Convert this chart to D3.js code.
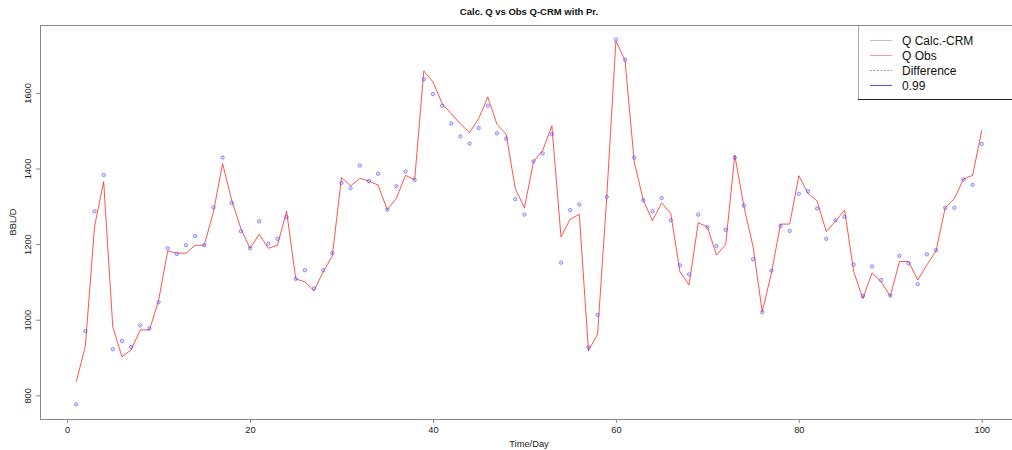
<!DOCTYPE html>
<html>
<head>
<meta charset="utf-8">
<script src="https://cdn.jsdelivr.net/npm/d3@7"></script>
<style>
body { margin: 0; background: #fff; }
text { font-family: "Liberation Sans", Arial, sans-serif; }
</style>
</head>
<body>
<div id="gr"></div>
<script>

var days = d3.range(1, 101);

// calculated Q (blue circles)
var qCalc = [776, 970, 1287, 1383, 922, 944, 928, 985, 977, 1046,
  1189, 1174, 1197, 1221, 1197, 1297, 1429, 1309, 1234, 1189,
  1260, 1201, 1214, 1271, 1108, 1131, 1083, 1131, 1176, 1362,
  1348, 1408, 1367, 1386, 1291, 1353, 1392, 1370, 1636, 1597,
  1566, 1519, 1485, 1466, 1507, 1566, 1493, 1479, 1319, 1278,
  1419, 1440, 1491, 1151, 1290, 1305, 927, 1013, 1325, 1741,
  1688, 1429, 1316, 1287, 1322, 1263, 1144, 1120, 1278, 1245,
  1195, 1238, 1429, 1302, 1160, 1020, 1130, 1248, 1235, 1333,
  1340, 1294, 1214, 1263, 1272, 1146, 1063, 1141, 1105, 1064,
  1169, 1149, 1094, 1173, 1184, 1296, 1296, 1371, 1357, 1465];

// observed Q (red line)
var qObs = [836, 930, 1246, 1365, 981, 902, 920, 973, 973, 1050,
  1182, 1176, 1176, 1197, 1197, 1285, 1413, 1316, 1241, 1189,
  1226, 1189, 1197, 1287, 1108, 1100, 1077, 1127, 1169, 1376,
  1354, 1374, 1367, 1356, 1291, 1321, 1382, 1370, 1658, 1629,
  1572, 1545, 1518, 1495, 1532, 1589, 1517, 1491, 1347, 1296,
  1419, 1448, 1513, 1219, 1266, 1279, 918, 962, 1325, 1737,
  1686, 1418, 1316, 1262, 1309, 1281, 1127, 1092, 1257, 1245,
  1171, 1199, 1435, 1299, 1193, 1021, 1123, 1253, 1253, 1381,
  1334, 1314, 1233, 1261, 1290, 1127, 1056, 1124, 1100, 1062,
  1154, 1154, 1105, 1145, 1182, 1296, 1320, 1372, 1382, 1501];

var xTicks = [0, 20, 40, 60, 80, 100];
var yTicks = [800, 1000, 1200, 1400, 1600];
var legendLabels = ["Q Calc.-CRM", "Q Obs", "Difference", "0.99"];

var width = 1012,
height = 450;

var box = { left: 40, right: 1018, top: 25, bottom: 419 };

var svg = d3.select("#gr").append("svg").
attr("width", width).
attr("height", height);

// R style 4% padding on both axes
function pad(ext) {
  var r = ext[1] - ext[0];
  return [ext[0] - r * 0.04, ext[1] + r * 0.04];
}

var xScale = d3.scaleLinear().
domain(pad(d3.extent(days))).
range([box.left, box.right]);

var yScale = d3.scaleLinear().
domain(pad(d3.extent(qCalc))).
range([box.bottom, box.top]);

// x axis
var xAxis = d3.axisBottom(xScale).tickValues(xTicks).tickSize(4).tickPadding(3).tickFormat(d3.format("d"));
var gx = svg.append("g").
attr("transform", "translate(0," + box.bottom + ")").
call(xAxis);
gx.select(".domain").remove();
gx.selectAll("line").attr("stroke", "#888");
gx.selectAll("text").attr("fill", "#222").style("font-size", "9.3px");

// y axis
var yAxis = d3.axisLeft(yScale).tickValues(yTicks).tickSize(4).tickFormat(d3.format("d"));
var gy = svg.append("g").
attr("transform", "translate(" + box.left + ",0)").
call(yAxis);
gy.select(".domain").remove();
gy.selectAll("line").attr("stroke", "#888");
gy.selectAll("text").
attr("fill", "#222").
style("font-size", "9.3px").
attr("transform", "rotate(-90)").
attr("x", 0).
attr("y", -9).
attr("dy", 0).
attr("text-anchor", "middle");

// plot box
svg.append("rect").
attr("x", box.left + 0.5).
attr("y", box.top + 0.5).
attr("width", box.right - box.left).
attr("height", box.bottom - box.top).
attr("fill", "none").
attr("stroke", "#888");

// observed line
var line = d3.line().
x(function (d, i) {return xScale(days[i]);}).
y(function (d) {return yScale(d);});

svg.append("path").
datum(qObs).
attr("d", line).
attr("fill", "none").
attr("stroke", "#ff1a1a").
attr("stroke-opacity", 0.75).
attr("stroke-width", 1);

// calculated points
svg.selectAll("circle.calc").
data(qCalc).
enter().
append("circle").
attr("class", "calc").
attr("r", 1.7).
attr("cx", function (d, i) {return xScale(days[i]);}).
attr("cy", function (d) {return yScale(d);}).
attr("fill", "rgba(150,150,255,0.3)").
attr("stroke", "rgba(40,40,255,0.6)").
attr("stroke-width", 0.8);

// titles
svg.append("text").
attr("x", (box.left + box.right) / 2).
attr("y", 15).
attr("text-anchor", "middle").
style("font-size", "9.5px").
style("font-weight", "bold").
attr("fill", "#111").
text("Calc. Q vs Obs Q-CRM with Pr.");

svg.append("text").
attr("x", (box.left + box.right) / 2).
attr("y", 447).
attr("text-anchor", "middle").
style("font-size", "9.3px").
attr("fill", "#222").
text("Time/Day");

svg.append("text").
attr("transform", "translate(15.5," + (box.top + box.bottom) / 2 + ") rotate(-90)").
attr("text-anchor", "middle").
style("font-size", "9.3px").
attr("fill", "#222").
text("BBL/D");

// legend
var lg = svg.append("g");
lg.append("rect").
attr("x", 858).
attr("y", box.top).
attr("width", 170).
attr("height", 74).
attr("fill", "#fff");
lg.append("line").
attr("x1", 858.5).attr("x2", 858.5).
attr("y1", box.top).attr("y2", 99).
attr("stroke", "#aaa");
lg.append("line").
attr("x1", 858).attr("x2", 1012).
attr("y1", 99.5).attr("y2", 99.5).
attr("stroke", "#222");
lg.append("line").
attr("x1", 858).attr("x2", 1012).
attr("y1", box.top + 0.5).attr("y2", box.top + 0.5).
attr("stroke", "#888");

var legColors = ["#b4b8ff", "#ff9a9a", "#d08a8a", "#5050ff"];
var legDash = [null, null, "2,1.5", null];

var items = lg.selectAll("g.item").
data(legendLabels).
enter().
append("g").
attr("class", "item").
attr("transform", function (d, i) {return "translate(870," + (40.5 + i * 15) + ")";});

items.append("line").
attr("x1", 0).
attr("x2", 22).
attr("stroke", function (d, i) {return legColors[i];}).
attr("stroke-dasharray", function (d, i) {return legDash[i];}).
attr("stroke-width", 1);

items.append("text").
attr("x", 32).
attr("dy", "0.36em").
style("font-size", "12px").
attr("fill", "#111").
text(function (d) {return d;});

</script>
</body>
</html>
